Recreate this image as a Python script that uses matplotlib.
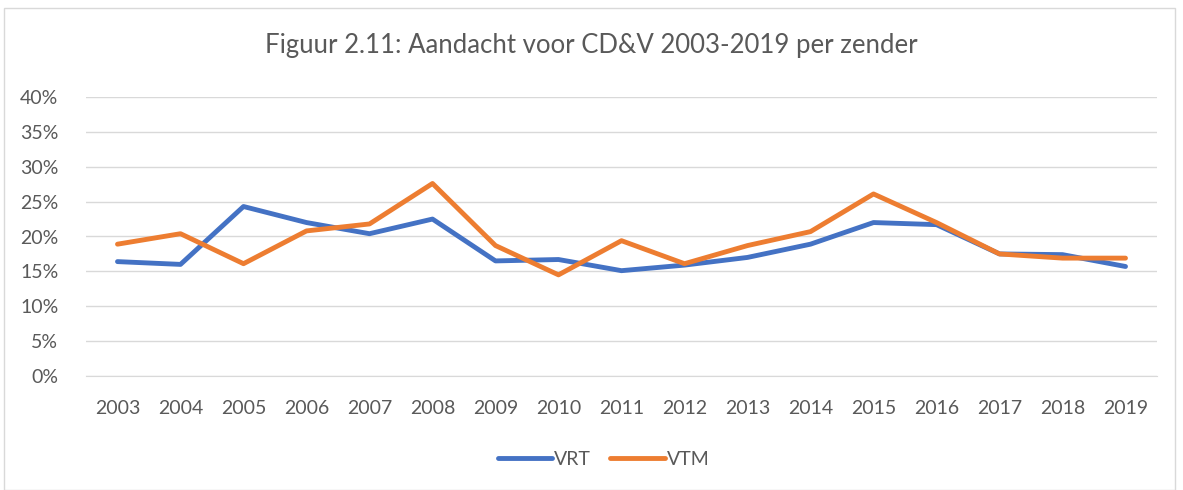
import matplotlib.pyplot as plt
from matplotlib.patches import Rectangle
from matplotlib.ticker import PercentFormatter

years = ['2003', '2004', '2005', '2006', '2007', '2008', '2009', '2010', '2011',
         '2012', '2013', '2014', '2015', '2016', '2017', '2018', '2019']
vrt = [16.4, 16.0, 24.3, 22.0, 20.4, 22.5, 16.5, 16.7, 15.1,
       15.9, 17.0, 18.9, 22.0, 21.7, 17.5, 17.4, 15.7]
vtm = [18.9, 20.4, 16.1, 20.8, 21.8, 27.6, 18.7, 14.5, 19.4,
       16.1, 18.7, 20.7, 26.1, 22.0, 17.5, 16.9, 16.9]

plt.rcParams['font.family'] = ['Lato', 'DejaVu Sans']
text_color = '#595959'

fig = plt.figure(figsize=(11.83, 4.9), dpi=100)
fig.patches.append(Rectangle((4 / 1183, 0), 1171 / 1183, 482 / 490,
                             transform=fig.transFigure, fill=False,
                             edgecolor='#d9d9d9', lw=1))

ax = fig.add_axes([86 / 1183, 1 - 376 / 490, (1157 - 86) / 1183, (376 - 97) / 490])
x = range(len(years))
ax.plot(x, vrt, color='#4472c4', lw=3.5, label='VRT', solid_capstyle='round')
ax.plot(x, vtm, color='#ed7d31', lw=3.5, label='VTM', solid_capstyle='round')

ax.set_xlim(-0.5, len(years) - 0.5)
ax.set_ylim(0, 40)
ax.set_yticks(range(0, 41, 5))
ax.yaxis.set_major_formatter(PercentFormatter(decimals=0))
ax.set_xticks(list(x))
ax.set_xticklabels(years)
ax.grid(axis='y', color='#d9d9d9', lw=1)
ax.set_axisbelow(True)
for s in ['top', 'right', 'left']:
    ax.spines[s].set_visible(False)
ax.spines['bottom'].set_color('#d9d9d9')
ax.tick_params(length=0, labelsize=14, colors=text_color)
ax.tick_params(axis='x', pad=17)
ax.tick_params(axis='y', pad=20)

fig.text(0.5, 1 - 45 / 490, 'Figuur 2.11: Aandacht voor CD&V 2003-2019 per zender',
         ha='center', va='center', fontsize=18.5, color=text_color)

ax.legend(loc='center', bbox_to_anchor=(0.5 - 18 / 1071, (376 - 459) / (376 - 97)), ncol=2,
          frameon=False, fontsize=14, labelcolor=text_color, handlelength=2.8,
          handletextpad=0.1, columnspacing=1.0)

fig.savefig('out.png', dpi=100)
